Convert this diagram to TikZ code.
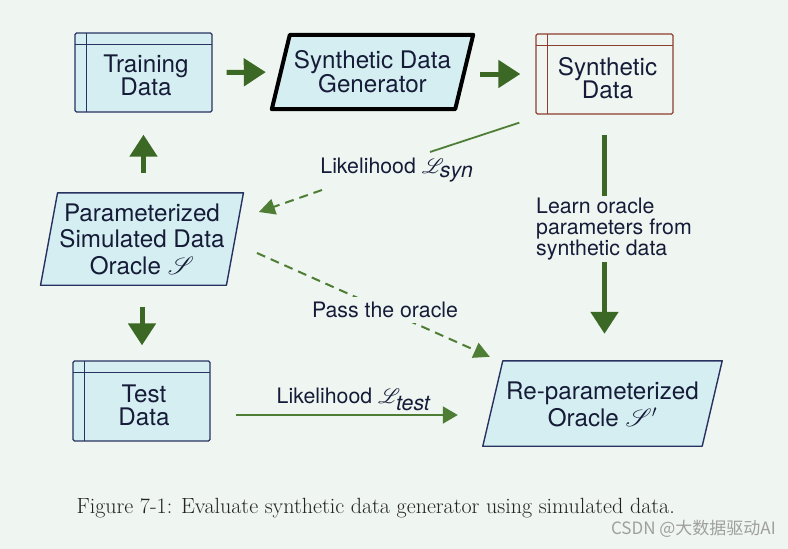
\documentclass[tikz,border=0pt]{standalone}
\usepackage{fontspec}
\usepackage{mathrsfs}
\newfontfamily\hv{TeX Gyre Heros}
\newfontfamily\cjk{Noto Sans CJK SC}
\usetikzlibrary{arrows.meta}
\pgfdeclarelayer{back}
\pgfdeclarelayer{mid}
\pgfsetlayers{back,mid,main}
\definecolor{bgc}{HTML}{EFF5F0}
\definecolor{cyanfill}{HTML}{D5EEF2}
\definecolor{navy}{HTML}{283260}
\definecolor{txt}{HTML}{161C38}
\definecolor{darkgreen}{HTML}{3B6824}
\definecolor{midgreen}{HTML}{4E7D35}
\definecolor{synred}{HTML}{8E3E2E}
\definecolor{capgray}{HTML}{222222}
\tikzset{
  databox/.style={rectangle, draw=navy, line width=1.3pt, fill=cyanfill,
    rounded corners=1.5pt, minimum width=137pt, minimum height=79pt, inner sep=0pt,
    path picture={
      \draw[line width=1pt] ([xshift=11.5pt]path picture bounding box.north west) -- ([xshift=11.5pt]path picture bounding box.south west);
      \draw[line width=1pt] ([yshift=-11.5pt]path picture bounding box.north west) -- ([yshift=-11.5pt]path picture bounding box.north east);
    }},
  boxtext/.style={font=\hv\fontsize{24.2}{23}\selectfont, text=txt, align=center},
  paratext/.style={font=\hv\fontsize{24.2}{26.5}\selectfont, text=txt, align=center, inner sep=0pt},
  paraframe/.style={fill=cyanfill, draw=navy, line width=1.4pt, line join=round},
  lbl/.style={font=\hv\fontsize{21.3}{21.3}\selectfont, text=txt},
  bigarrow/.style={draw=darkgreen, line width=5pt, -{Triangle[width=27pt,length=22pt]}},
  thinarrow/.style={draw=midgreen, line width=2pt, -{Triangle[width=17pt,length=15pt]}},
  dasharrow/.style={draw=midgreen, line width=2pt, dash pattern=on 9pt off 6pt, -{Triangle[width=16pt,length=16pt]}},
  thinline/.style={draw=midgreen, line width=1.8pt},
}
\begin{document}
\begin{tikzpicture}[x=1pt,y=-1pt]
\useasboundingbox (0,0) rectangle (788,549);
\begin{pgfonlayer}{back}
  \fill[bgc] (0,0) rectangle (788,549);
\end{pgfonlayer}

% data boxes
\node[databox] (train) at (143.5,72.5) {};
\node[boxtext] (train-t) at ([shift={(2.5,3)}]train.center) {Training\\Data};
\node[databox, draw=synred, fill=none, minimum height=80pt] (syn) at (604.5,74) {};
\node[boxtext] (syn-t) at ([shift={(3,4)}]syn.center) {Synthetic\\Data};
\node[databox, minimum height=80pt] (test) at (141.5,401) {};
\node[boxtext] (test-t) at ([shift={(2.5,4)}]test.center) {Test\\Data};

% parallelograms
\node[paratext, font=\hv\fontsize{24.2}{22.5}\selectfont, minimum width=183pt, minimum height=74pt] (gen) at (372.5,72) {Synthetic Data\\Generator};
\node[paratext, minimum width=185.5pt, minimum height=92pt] (param) at (142,239) {Parameterized\\Simulated Data\\Oracle $\mathscr{S}$};
\node[paratext, minimum width=219pt, minimum height=85pt] (reparam) at (602.5,404.5) {Re-parameterized\\Oracle $\mathscr{S}'$};
\begin{pgfonlayer}{mid}
  \draw[paraframe, draw=black, line width=4pt] ([xshift=9pt]gen.north west) -- ([xshift=9pt]gen.north east) -- ([xshift=-9pt]gen.south east) -- ([xshift=-9pt]gen.south west) -- cycle;
  \draw[paraframe] ([xshift=8.5pt]param.north west) -- ([xshift=8.5pt]param.north east) -- ([xshift=-8.5pt]param.south east) -- ([xshift=-8.5pt]param.south west) -- cycle;
  \draw[paraframe] ([shift={(10,-1)}]reparam.north west) -- ([shift={(10,-1)}]reparam.north east) -- ([shift={(-10,-1)}]reparam.south east) -- ([shift={(-10,-1)}]reparam.south west) -- cycle;
\end{pgfonlayer}

% thick arrows
\draw[bigarrow, shorten <=14pt, shorten >=15pt] (train.east) -- (gen.west);
\draw[bigarrow, shorten <=16pt, shorten >=15pt] ([yshift=-2pt]gen.east) -- ([yshift=-2pt]gen.east -| syn.west);
\draw[bigarrow, shorten <=20pt, shorten >=22pt] (param.north -| train.south) -- (train.south);
\draw[bigarrow, shorten <=22pt, shorten >=15pt] (param.south) -- (param.south |- test.north);
\draw[bigarrow, shorten <=20pt, shorten >=27pt] (syn.south) -- ([yshift=1pt]syn.south |- reparam.north);
\node[lbl, align=left, fill=bgc, inner sep=2pt, anchor=west] (learn) at (534,229) {Learn oracle\\parameters from\\synthetic data};

% likelihood syn
\node[lbl] (lsyn) at (397,170) {Likelihood $\mathscr{L}_{\textit{syn}}$};
\draw[thinline] ([shift={(-16,8)}]syn.south west) -- ([shift={(33,-18)}]lsyn.center);
\draw[dasharrow] ([shift={(-75,20)}]lsyn.center) -- ([shift={(24,-27)}]param.east);

% pass the oracle
\draw[dasharrow] ([shift={(22,14)}]param.east) -- ([shift={(-3,-5)}]reparam.north west)
  node[lbl, pos=0.55, fill=bgc, inner sep=5pt] (pass) {Pass the oracle};

% likelihood test
\draw[thinarrow] ([shift={(25,14)}]test.east) -- ([shift={(-35,10.5)}]reparam.west);
\node[lbl] (ltest) at (353.5,399) {Likelihood $\mathscr{L}_{\textit{test}}$};

% caption and watermark
\node[font=\fontsize{22}{26}\selectfont, text=capgray, anchor=west] (cap) at (73,508) {Figure 7-1: Evaluate synthetic data generator using simulated data.};
\node[font=\cjk\fontsize{17}{17}\selectfont, text=gray!75, anchor=east, inner sep=0pt] (wm) at (776,529) {CSDN @大数据驱动AI};
\end{tikzpicture}
\end{document}
